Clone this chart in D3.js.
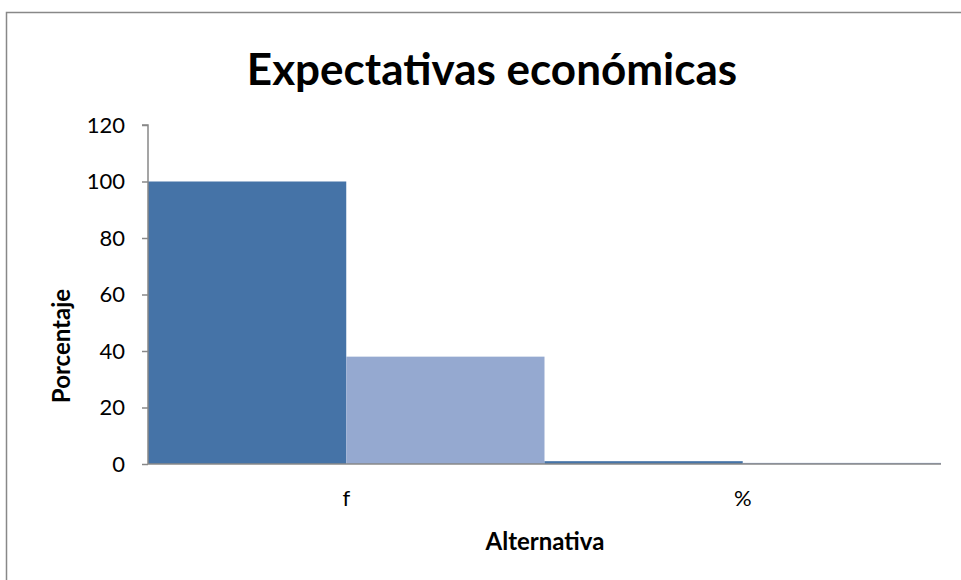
<!DOCTYPE html>
<html><head><meta charset="utf-8">
<script src="https://cdn.jsdelivr.net/npm/d3@7"></script>
<style>body{margin:0;background:#fff;} svg{display:block;}</style>
</head><body>
<svg id="chart" width="961" height="580"></svg>
<script>
const categories = ["f", "%"];
const seriesNames = ["Serie 1", "Serie 2"];
const series1 = [100, 1];
const series2 = [38, 0.4];
const yTicks = [0, 20, 40, 60, 80, 100, 120];
const colors = ["#4573A7", "#95A9D0"];

const svg = d3.select("#chart");
const font = "Lato, 'Open Sans', sans-serif";
// frame
svg.append("rect").attr("x", 6.5).attr("y", 12.5).attr("width", 1000).attr("height", 1000)
  .attr("fill", "#fff").attr("stroke", "#888").attr("stroke-width", 1.5);

const m = {left: 148, right: 941, top: 125, bottom: 464};
const x0 = d3.scaleBand().domain(categories).range([m.left, m.right]).paddingInner(0).paddingOuter(0);
const x1 = d3.scaleBand().domain(seriesNames).range([0, x0.bandwidth()]).padding(0);
const y = d3.scaleLinear().domain([0, 120]).range([m.bottom, m.top]);

const data = categories.map((c, i) => ({cat: c, vals: [series1[i], series2[i]]}));
const g = svg.append("g");
data.forEach(d => {
  d.vals.forEach((v, j) => {
    g.append("rect")
      .attr("x", x0(d.cat) + x1(seriesNames[j]))
      .attr("y", y(v))
      .attr("width", x1.bandwidth())
      .attr("height", y(0) - y(v))
      .attr("fill", colors[j]);
  });
});

// y axis
const yAxis = d3.axisLeft(y).tickValues(yTicks).tickSize(6).tickPadding(17);
const ya = svg.append("g").attr("transform", `translate(${m.left},0)`).call(yAxis);
ya.select(".domain").attr("stroke", "#888").attr("stroke-width", 1.5).attr("d", `M-6,${m.top}H0V${m.bottom}`);
ya.selectAll(".tick line").attr("stroke", "#888").attr("stroke-width", 1.5);
ya.selectAll("text").attr("font-family", font).attr("font-size", 22).attr("fill", "#000");

// x axis
const xAxis = d3.axisBottom(x0).tickSize(0).tickPadding(26);
const xa = svg.append("g").attr("transform", `translate(0,${m.bottom})`).call(xAxis);
xa.select(".domain").attr("stroke", "#888").attr("stroke-width", 1.5).attr("d", `M${m.left},0H${m.right}`);
xa.selectAll("text").attr("font-family", font).attr("font-size", 22).attr("fill", "#000").attr("dy", "0.71em");

// titles
svg.append("text").attr("x", 492).attr("y", 85).attr("text-anchor", "middle")
  .attr("font-family", font).attr("font-weight", "bold").attr("font-size", 44).text("Expectativas económicas");
svg.append("text").attr("x", 545).attr("y", 550).attr("text-anchor", "middle")
  .attr("font-family", font).attr("font-weight", "bold").attr("font-size", 24).text("Alternativa");
svg.append("text").attr("transform", "translate(70,346) rotate(-90)").attr("text-anchor", "middle")
  .attr("font-family", font).attr("font-weight", "bold").attr("font-size", 24).text("Porcentaje");
</script>
</body></html>
